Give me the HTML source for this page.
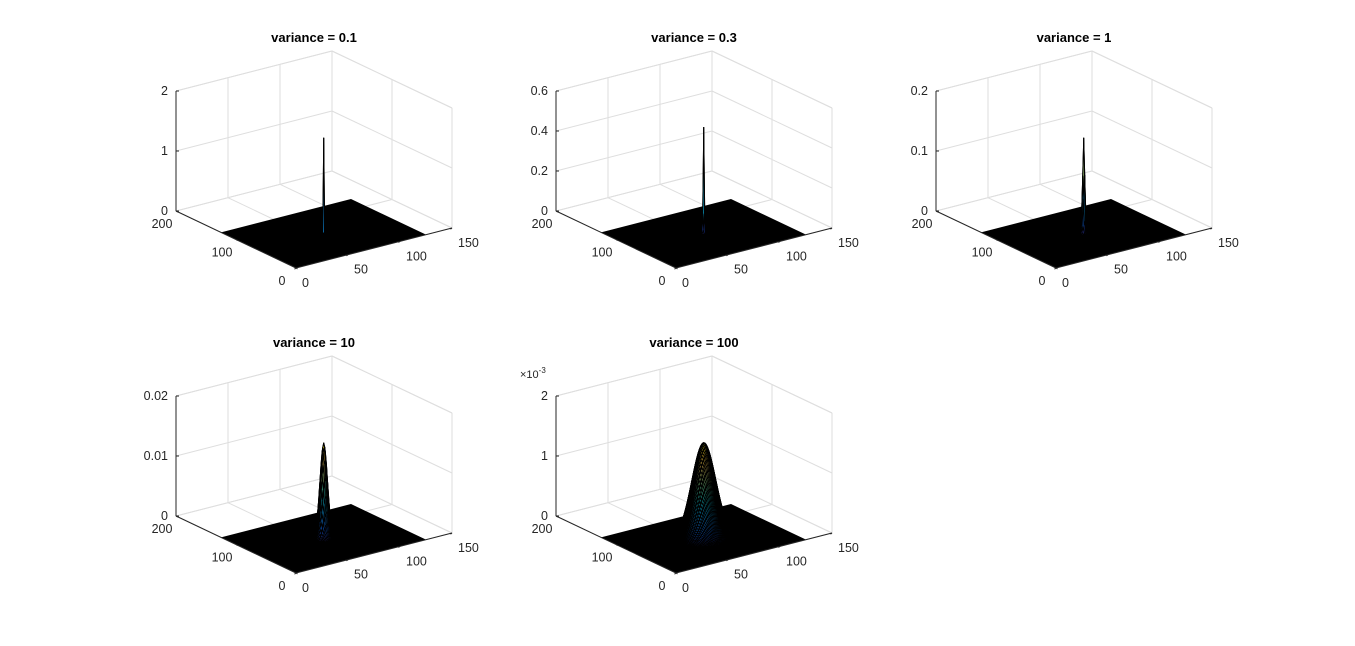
<!DOCTYPE html>
<html><head><meta charset="utf-8"><style>
html,body{margin:0;padding:0;background:#fff;}
svg{display:block;font-family:"Liberation Sans",sans-serif;}
</style></head><body>
<svg id="fig" width="1355" height="646" viewBox="0 0 1355 646"></svg>
<script>
// data
const titles = ["variance = 0.1","variance = 0.3","variance = 1","variance = 10","variance = 100"];
const variances = [0.1, 0.3, 1, 10, 100];
const zMax = [2, 0.6, 0.2, 0.02, 2];
const zTicks = [[0,1,2],[0,0.2,0.4,0.6],[0,0.1,0.2],[0,0.01,0.02],[0,1,2]];
const zScale = [1,1,1,1,1e-3];
const xTicks = [0,50,100,150];
const yTicks = [0,100,200];
const gridN = 125;
const center = 63;

const NS="http://www.w3.org/2000/svg";
const svg=document.getElementById('fig');
function mk(tag,attrs,parent){const e=document.createElementNS(NS,tag);for(const k in attrs)e.setAttribute(k,attrs[k]);(parent||svg).appendChild(e);return e;}
function parula(t){
  const c=[[53,42,135],[15,92,221],[18,125,216],[7,156,207],[21,177,180],[89,189,140],[165,190,107],[225,185,82],[252,206,46],[249,251,14]];
  t=Math.max(0,Math.min(1,t));const f=t*(c.length-1);const i=Math.min(c.length-2,Math.floor(f));const r=f-i;
  return 'rgb('+c[i].map((v,k)=>Math.round(v+(c[i+1][k]-v)*r)).join(',')+')';
}
const offsets=[[0,0],[380,0],[760,0],[0,305],[380,305]];
titles.forEach((title,idx)=>{
  const [ox,oy]=offsets[idx];
  const zm=zMax[idx]*zScale[idx];
  const P=(x,y,z)=>[296+ox+x*156/150-y*120/200, 268+oy-x*40/150-y*57/200-(z/zm)*120];
  const g=mk('g',{});
  
  
  const line=(a,b,col,w,name)=>{const l=mk('line',{x1:a[0],y1:a[1],x2:b[0],y2:b[1],stroke:col,'stroke-width':w},g);return l;};
  const gc='#dedede';
  xTicks.forEach(v=>{line(P(v,200,0),P(v,200,zm),gc,1,'grid-line');line(P(v,0,0),P(v,200,0),gc,1,'grid-line');});
  yTicks.forEach(v=>{line(P(150,v,0),P(150,v,zm),gc,1,'grid-line');line(P(0,v,0),P(150,v,0),gc,1,'grid-line');});
  zTicks[idx].forEach(t=>{const z=t*zScale[idx];line(P(0,200,z),P(150,200,z),gc,1,'grid-line');line(P(150,200,z),P(150,0,z),gc,1,'grid-line');});
  line(P(0,200,zm),P(150,200,zm),gc,1,'box-edge');line(P(150,200,zm),P(150,0,zm),gc,1,'box-edge');
  const c=[P(0,0,0),P(gridN,0,0),P(gridN,gridN,0),P(0,gridN,0)];
  const pl=mk('polygon',{points:c.map(p=>p.join(',')).join(' '),fill:'#000'},g);
  
  const s2=variances[idx];
  const f=(x,y)=>Math.exp(-((x-center)**2+(y-center)**2)/(2*s2))/(2*Math.PI*s2);
  const peak=1/(2*Math.PI*s2);
  const R=Math.min(40,Math.ceil(Math.sqrt(s2)*3.5)+1);
  const cells=[];
  for(let i=center-R;i<center+R;i++)for(let j=center-R;j<center+R;j++){
    const zs=[f(i,j),f(i+1,j),f(i+1,j+1),f(i,j+1)];
    if(Math.max(...zs)<peak*0.002)continue;
    cells.push([i,j,zs]);
  }
  cells.sort((a,b)=>(b[0]*0.8+b[1])-(a[0]*0.8+a[1]));
  const sg=mk('g',{},g);
  cells.forEach(([i,j,zs])=>{
    const pts=[P(i,j,zs[0]),P(i+1,j,zs[1]),P(i+1,j+1,zs[2]),P(i,j+1,zs[3])];
    const avg=(zs[0]+zs[1]+zs[2]+zs[3])/4;
    const q=mk('polygon',{points:pts.map(p=>p.join(',')).join(' '),fill:parula(avg/peak),stroke:'#000','stroke-width':0.9},sg);
    
    
  });
  const ac='#262626';
  line(P(0,0,0),P(150,0,0),ac,1,'x-axis');
  line(P(0,0,0),P(0,200,0),ac,1,'y-axis');
  line(P(0,200,0),P(0,200,zm),ac,1,'z-axis');
  const txt=(x,y,s,anchor,name,extra)=>{const t=mk('text',Object.assign({x:x,y:y,'font-size':12.5,fill:'#262626','text-anchor':anchor},extra||{}),g);t.textContent=s;return t;};
  xTicks.forEach(v=>{const p=P(v,0,0);line(p,[p[0]-1.5,p[1]+1.2],ac,1,'x-tick');txt(p[0]+6,p[1]+19,String(v),'start','x-tick-label');});
  yTicks.forEach(v=>{const p=P(0,v,0);line(p,[p[0]+1.5,p[1]+1],ac,1,'y-tick');txt(p[0]-14,p[1]+17,String(v),'middle','y-tick-label');});
  zTicks[idx].forEach(t=>{const p=P(0,200,t*zScale[idx]);line(p,[p[0]+3,p[1]],ac,1,'z-tick');txt(p[0]-8,p[1]+4,String(t),'end','z-tick-label');});
  if(zScale[idx]!==1){const p=P(0,200,zm);const t=txt(p[0]-36,p[1]-18,'×10','start','z-exponent',{'font-size':11});const sp=mk('tspan',{dy:-5,'font-size':8},t);sp.textContent='-3';}
  txt(314+ox,42+oy,title,'middle','subplot-title',{'font-weight':'bold','font-size':13,fill:'#000'});
});
</script>
</body></html>
